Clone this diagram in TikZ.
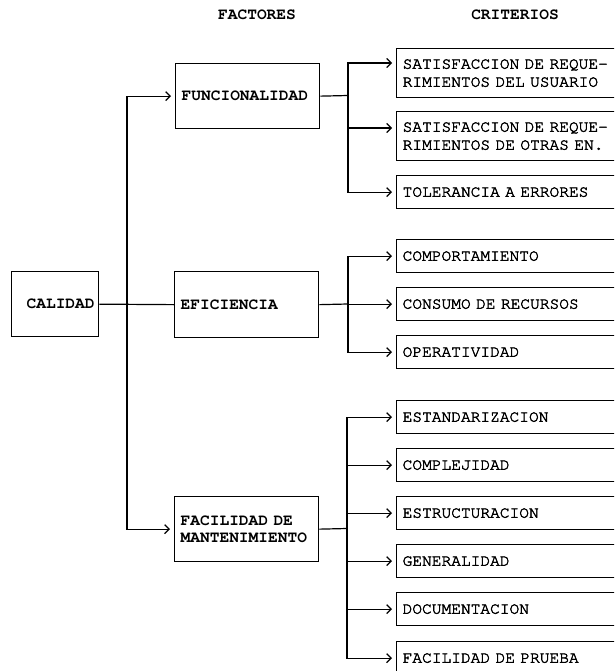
\documentclass[tikz,border=0pt]{standalone}
\usepackage{fontspec}
\newfontfamily\critfont[FakeBold=2.5]{TeX Gyre Cursor}
\newfontfamily\factfont{TeX Gyre Cursor}
\usetikzlibrary{arrows.meta,calc}
\tikzset{
  conn/.style={line width=1.2pt},
  arr/.style={conn, -{Straight Barb[length=4.5pt,width=9pt]}, shorten >=4pt},
  titletext/.style={font=\factfont\bfseries\fontsize{16.2}{18}\selectfont, inner sep=0pt},
  fbox/.style={draw, line width=1.3pt, anchor=north west, inner ysep=0pt,
    align=left, font=\factfont\bfseries\fontsize{16.2}{17}\selectfont},
  cbox/.style={draw, line width=1.3pt, anchor=north west, inner ysep=0pt,
    inner xsep=6pt, minimum width=244pt, text width=232pt, minimum height=33pt,
    align=left, font=\critfont\fontsize{16.2}{18}\selectfont}
}
\begin{document}
\begin{tikzpicture}[x=1pt,y=-1pt]
\useasboundingbox (0,0) rectangle (614,671);
\clip (0,0) rectangle (614,671);
\fill[white] (0,0) rectangle (614,671);

% titles
\node[titletext] (tfac) at (257,15) {FACTORES};
\node[titletext] (tcri) at (515,15) {CRITERIOS};

% factor boxes
\node[fbox, minimum width=87pt, minimum height=65pt, text width=79pt, inner xsep=4pt, align=right] (cal) at (11,271) {CALIDAD};
\node[fbox, minimum width=144pt, minimum height=65pt, text width=132pt, inner xsep=6pt] (fun) at (175,63) {FUNCIONALIDAD};
\node[fbox, minimum width=144pt, minimum height=66pt, text width=132pt, inner xsep=6pt] (efi) at (174,271) {EFICIENCIA};
\node[fbox, minimum width=144pt, minimum height=65pt, text width=132pt, inner xsep=6pt] (fac) at (174,496) {FACILIDAD DE\\MANTENIMIENTO};

% criteria boxes
\node[cbox, minimum height=49pt] (c1) at (396,48) {SATISFACCION DE REQUE-\\RIMIENTOS DEL USUARIO};
\node[cbox, minimum height=49pt] (c2) at (396,111) {SATISFACCION DE REQUE-\\RIMIENTOS DE OTRAS EN.};
\node[cbox] (c3) at (396,175) {TOLERANCIA A ERRORES};
\node[cbox] (c4) at (396,239) {COMPORTAMIENTO};
\node[cbox] (c5) at (396,287) {CONSUMO DE RECURSOS};
\node[cbox] (c6) at (396,335) {OPERATIVIDAD};
\node[cbox] (c7) at (396,400) {ESTANDARIZACION};
\node[cbox] (c8) at (396,448) {COMPLEJIDAD};
\node[cbox] (c9) at (396,496) {ESTRUCTURACION};
\node[cbox] (c10) at (396,544) {GENERALIDAD};
\node[cbox] (c11) at (396,592) {DOCUMENTACION};
\node[cbox] (c12) at (396,641) {FACILIDAD DE PRUEBA};

% trunk
\coordinate (trunk) at (127,303.5);
\draw[conn] (cal.east) -- (efi.west);
\draw[arr] (trunk) |- (fun.west);
\draw[arr] (trunk) |- (fac.west);

% funcionalidad branch
\coordinate (bf) at (348,95.5);
\draw[conn] (fun.east) -- (bf);
\draw[arr] (bf) |- ($(c1.north west)+(0,15)$);
\draw[arr] (bf) |- ($(c2.north west)+(0,17)$);
\draw[arr] (bf) |- (c3.west);

% eficiencia branch
\coordinate (be) at (348,304);
\draw[conn] (efi.east) -- (be);
\draw[arr] (be) |- (c4.west);
\draw[arr] (be) |- (c5.west);
\draw[arr] (be) |- (c6.west);

% mantenimiento branch
\coordinate (bm) at (347,528.5);
\draw[conn] (fac.east) -- (bm);
\draw[arr] (bm) |- (c7.west);
\draw[arr] (bm) |- (c8.west);
\draw[arr] (bm) |- (c9.west);
\draw[arr] (bm) |- (c10.west);
\draw[arr] (bm) |- (c11.west);
\draw[arr] (bm) |- (c12.west);
\end{tikzpicture}
\end{document}
